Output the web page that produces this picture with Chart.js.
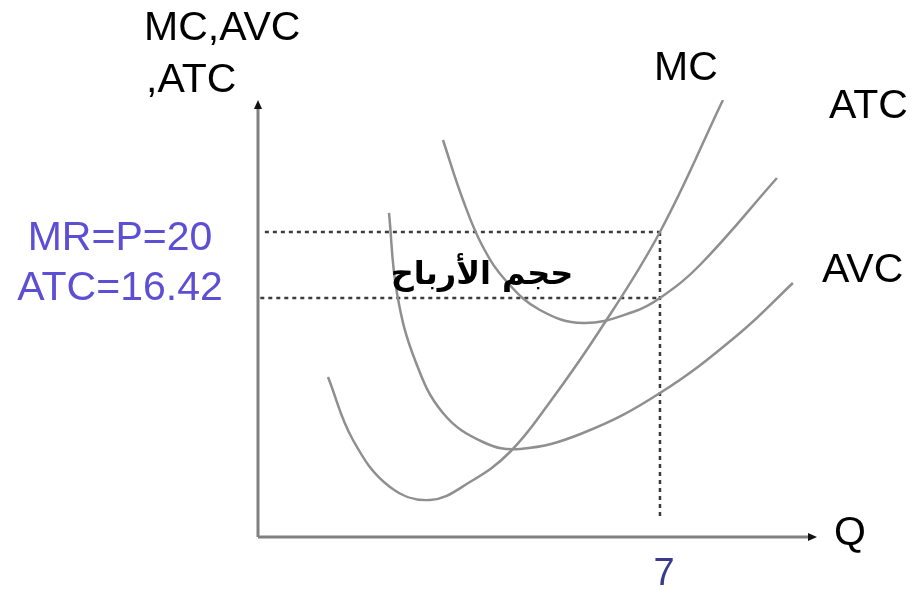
<!DOCTYPE html>
<html>
<head>
<meta charset="utf-8">
<script src="https://cdn.jsdelivr.net/npm/chart.js@4"></script>
<style>
  html, body { margin: 0; padding: 0; background: #fff; }
  #wrap { width: 915px; height: 589px; }
</style>
</head>
<body>
<div id="wrap"><canvas id="costs" width="915" height="589"></canvas></div>
<script>
// quantity and cost values
const mcQ = [1.219, 1.654, 2.298, 2.995, 3.691, 4.388, 5.084, 5.955, 7.000, 8.097];
const mcCost = [12.135, 8.718, 6.168, 5.463, 6.440, 8.067, 10.779, 14.684, 20.000, 27.160];

const atcQ = [3.221, 3.570, 3.918, 4.336, 4.910, 5.659, 6.530, 7.000, 7.696, 9.037];
const atcCost = [24.990, 21.736, 19.186, 17.288, 15.769, 15.064, 15.661, 16.420, 18.210, 22.929];

const avcQ = [2.281, 2.420, 2.734, 3.221, 3.918, 4.562, 5.659, 7.000, 8.393, 9.315];
const avcCost = [21.031, 16.691, 13.057, 10.182, 8.609, 8.230, 9.097, 11.267, 14.522, 17.234];

const priceLevels = [20, 16.42];
const priceLabels = ['MR=P=20', 'ATC=16.42'];
const qStar = 7;
const qLabel = '7';
const profitLabel = 'حجم الأرباح';

const xMin = 0, xMax = 9.7;
const yMin = 3.456, yMax = 27.16;

function pts(xs, ys) {
    return xs.map(function (x, i) { return {x: x, y: ys[i]}; });
}

const curveStyle = {
    showLine: true,
    borderColor: '#8f8f8f',
    borderWidth: 2.5,
    pointRadius: 0,
    tension: 0.4,
    fill: false
};
const dotStyle = {
    showLine: true,
    borderColor: '#3c3c3c',
    borderWidth: 2.5,
    borderDash: [4, 4],
    pointRadius: 0,
    fill: false
};
const axisStyle = {
    showLine: true,
    borderColor: '#808080',
    borderWidth: 3,
    pointRadius: 0,
    fill: false,
    clip: false
};

// labels and arrow heads
const diagramText = {
    id: 'diagramText',
    afterDatasetsDraw(chart) {
        const ctx = chart.ctx;
        const xs = chart.scales.x, ys = chart.scales.y;
        ctx.save();

        // arrow heads
        ctx.fillStyle = '#111';
        const top = ys.getPixelForValue(yMax), left = xs.getPixelForValue(xMin);
        ctx.beginPath();
        ctx.moveTo(left, top);
        ctx.lineTo(left - 4, top + 9);
        ctx.lineTo(left + 4, top + 9);
        ctx.closePath();
        ctx.fill();
        const right = xs.getPixelForValue(xMax), bottom = ys.getPixelForValue(yMin);
        ctx.beginPath();
        ctx.moveTo(right + 2, bottom);
        ctx.lineTo(right - 7, bottom - 4);
        ctx.lineTo(right - 7, bottom + 4);
        ctx.closePath();
        ctx.fill();

        ctx.textBaseline = 'alphabetic';
        ctx.font = '41px "Liberation Sans", Arial, sans-serif';
        ctx.fillStyle = '#000';
        ctx.textAlign = 'left';
        ctx.fillText('MC,AVC', 144, 40);
        ctx.fillText(',ATC', 146, 92);
        ctx.fillText('MC', 654, 80);
        ctx.fillText('ATC', 829, 118);
        ctx.fillText('AVC', 822, 282);
        ctx.fillText('Q', 834, 545);

        // price levels on the left
        ctx.fillStyle = '#5d4fd3';
        ctx.textAlign = 'center';
        ctx.fillText(priceLabels[0], 120, ys.getPixelForValue(priceLevels[0]) + 18);
        ctx.fillText(priceLabels[1], 120, ys.getPixelForValue(priceLevels[1]) + 2);

        // quantity mark
        ctx.fillStyle = '#3b3b8e';
        ctx.font = '38px "Liberation Sans", Arial, sans-serif';
        ctx.fillText(qLabel, xs.getPixelForValue(qStar) + 4, 585);

        // profit area label
        ctx.fillStyle = '#000';
        ctx.font = 'bold 32px "DejaVu Sans", sans-serif';
        ctx.direction = 'rtl';
        ctx.textAlign = 'center';
        ctx.fillText(profitLabel, 482, 284);
        ctx.restore();
    }
};

new Chart(document.getElementById('costs').getContext('2d'), {
    type: 'scatter',
    data: {
        datasets: [
            Object.assign({label: 'MC', data: pts(mcQ, mcCost)}, curveStyle),
            Object.assign({label: 'ATC', data: pts(atcQ, atcCost)}, curveStyle),
            Object.assign({label: 'AVC', data: pts(avcQ, avcCost)}, curveStyle),
            Object.assign({label: 'P', data: [{x: 0.12, y: priceLevels[0]}, {x: qStar, y: priceLevels[0]}]}, dotStyle),
            Object.assign({label: 'ATCq', data: [{x: 0.04, y: priceLevels[1]}, {x: qStar, y: priceLevels[1]}]}, dotStyle),
            Object.assign({label: 'Q*', data: [{x: qStar, y: priceLevels[0]}, {x: qStar, y: 4.38}]}, dotStyle),
            Object.assign({label: 'yaxis', data: [{x: xMin, y: yMin}, {x: xMin, y: yMax - 0.2}]}, axisStyle),
            Object.assign({label: 'xaxis', data: [{x: xMin, y: yMin}, {x: xMax - 0.1, y: yMin}]}, axisStyle)
        ]
    },
    options: {
        responsive: false,
        animation: false,
        layout: {padding: {left: 258, right: 100, top: 100, bottom: 52}},
        plugins: {legend: {display: false}, tooltip: {enabled: false}},
        scales: {
            x: {type: 'linear', min: xMin, max: xMax, display: false},
            y: {type: 'linear', min: yMin, max: yMax, display: false}
        }
    },
    plugins: [diagramText]
});
</script>
</body>
</html>
